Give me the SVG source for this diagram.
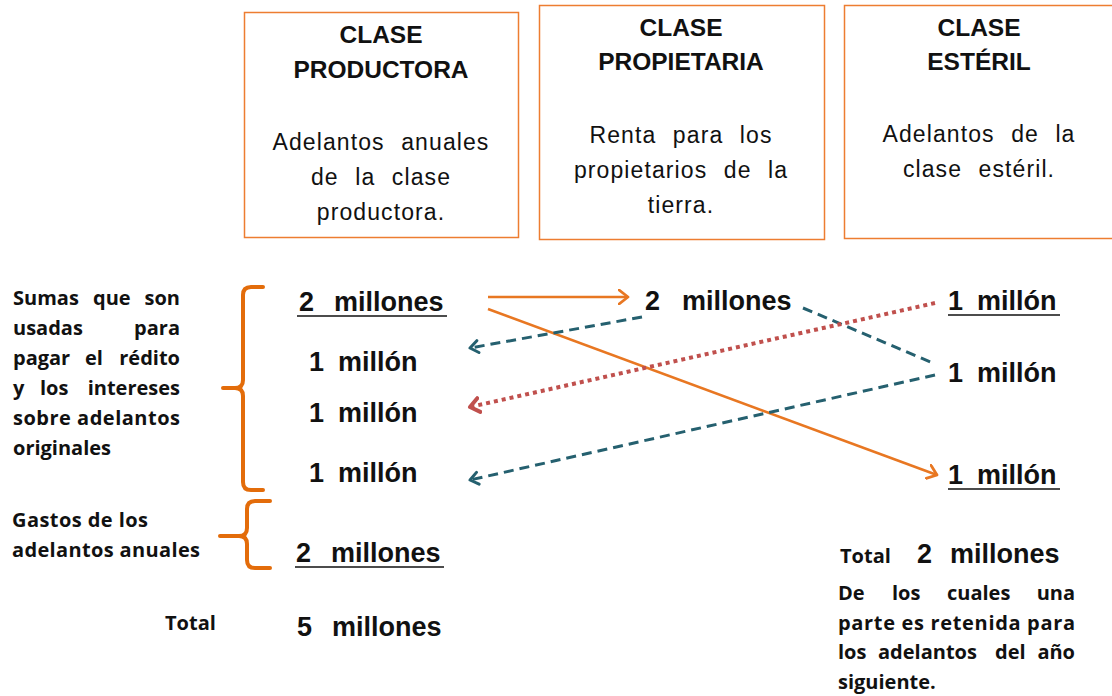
<svg xmlns="http://www.w3.org/2000/svg" width="1112" height="696" viewBox="0 0 1112 696">
<style>
.box{fill:#fff;stroke:#ED7D31;stroke-width:1.5}
.hd{font-family:"Liberation Sans",Arial,sans-serif;font-weight:bold;font-size:24.5px;fill:#111;text-anchor:middle}
.bd{font-family:"Liberation Sans",Arial,sans-serif;font-size:23px;fill:#111;text-anchor:middle;letter-spacing:1.1px;word-spacing:9px}
.num{font-family:"Liberation Sans",Arial,sans-serif;font-weight:bold;font-size:27px;fill:#111}
.cal{font-family:"Open Sans",Lato,sans-serif;font-weight:bold;font-size:20px;fill:#111}
.brace{fill:none;stroke:#E36C0A;stroke-width:4;stroke-linecap:round;stroke-linejoin:round}
.or{fill:none;stroke:#E87722;stroke-width:2.6}
.tl{fill:none;stroke:#25606F;stroke-width:3;stroke-dasharray:10 6}
.rd{fill:none;stroke:#C0504D;stroke-width:4;stroke-dasharray:4 4}
.ul{stroke:#111;stroke-width:1.5}
</style>
<defs>
<marker id="aOr" viewBox="0 0 12 16" refX="10" refY="8" markerWidth="12" markerHeight="16" markerUnits="userSpaceOnUse" orient="auto">
<path d="M1,1 L10,8 L1,15" fill="none" stroke="#E87722" stroke-width="2.8" stroke-linecap="round" stroke-linejoin="round"/>
</marker>
<marker id="aTl" viewBox="0 0 12 16" refX="10" refY="8" markerWidth="12" markerHeight="16" markerUnits="userSpaceOnUse" orient="auto">
<path d="M2,2 L10,8 L2,14" fill="none" stroke="#25606F" stroke-width="3" stroke-linecap="round" stroke-linejoin="round"/>
</marker>
<marker id="aRd" viewBox="0 0 14 18" refX="11" refY="9" markerWidth="14" markerHeight="18" markerUnits="userSpaceOnUse" orient="auto">
<path d="M2,2 L11,9 L2,16" fill="none" stroke="#C0504D" stroke-width="4" stroke-linecap="round" stroke-linejoin="round"/>
</marker>
</defs>
<rect width="1112" height="696" fill="#fff"/>

<g id="productora">
<rect class="box" x="244.5" y="12.5" width="274" height="225"/>
<text class="hd" x="381" y="43">CLASE</text>
<text class="hd" x="381" y="78">PRODUCTORA</text>
<text class="bd" x="381" y="150">Adelantos anuales</text>
<text class="bd" x="381" y="185">de la clase</text>
<text class="bd" x="381" y="220">productora.</text>
</g>
<g id="propietaria">
<rect class="box" x="539.5" y="5.5" width="285" height="234"/>
<text class="hd" x="681" y="36">CLASE</text>
<text class="hd" x="681" y="70">PROPIETARIA</text>
<text class="bd" x="681" y="143">Renta para los</text>
<text class="bd" x="681" y="178">propietarios de la</text>
<text class="bd" x="681" y="213">tierra.</text>
</g>
<g id="esteril">
<rect class="box" x="844.5" y="5.5" width="270" height="233"/>
<text class="hd" x="979" y="36">CLASE</text>
<text class="hd" x="979" y="70">ESTÉRIL</text>
<text class="bd" x="979" y="142">Adelantos de la</text>
<text class="bd" x="979" y="177">clase estéril.</text>
</g>

<g id="sumas">
<text class="cal" y="305"><tspan x="13">Sumas</tspan><tspan x="93">que</tspan><tspan x="180" text-anchor="end">son</tspan></text>
<text class="cal" y="335"><tspan x="13">usadas</tspan><tspan x="180" text-anchor="end">para</tspan></text>
<text class="cal" y="365"><tspan x="13">pagar</tspan><tspan x="85">el</tspan><tspan x="180" text-anchor="end">rédito</tspan></text>
<text class="cal" y="395"><tspan x="13">y</tspan><tspan x="40">los</tspan><tspan x="180" text-anchor="end">intereses</tspan></text>
<text class="cal" y="425" x="13" textLength="167" lengthAdjust="spacing">sobre adelantos</text>
<text class="cal" y="455" x="13">originales</text>
<path class="brace" d="M263,287 L251,287 Q243,287 243,295 L243,380 Q243,388 235,388 L223,388 M235,388 Q243,388 243,396 L243,482 Q243,490 251,490 L263,490"/>
</g>

<g id="gastos">
<text class="cal" x="12" y="527" textLength="136" lengthAdjust="spacing">Gastos de los</text>
<text class="cal" x="12" y="557" textLength="188" lengthAdjust="spacing">adelantos anuales</text>
<path class="brace" d="M270,501 L255,501 Q247,501 247,509 L247,528 Q247,536 239,536 L220,536 M239,536 Q247,536 247,544 L247,560 Q247,568 255,568 L270,568"/>
</g>

<g id="col1">
<text class="num" y="311"><tspan x="299">2</tspan><tspan x="334">millones</tspan></text>
<line class="ul" x1="297" y1="316" x2="447" y2="316"/>
<text class="num" y="371"><tspan x="309">1</tspan><tspan x="338">millón</tspan></text>
<text class="num" y="422"><tspan x="309">1</tspan><tspan x="338">millón</tspan></text>
<text class="num" y="482"><tspan x="309">1</tspan><tspan x="338">millón</tspan></text>
<text class="num" y="562"><tspan x="296">2</tspan><tspan x="331">millones</tspan></text>
<line class="ul" x1="295" y1="567" x2="444" y2="567"/>
<text class="cal" x="165" y="630">Total</text>
<text class="num" y="636"><tspan x="297">5</tspan><tspan x="332">millones</tspan></text>
</g>

<g id="col2">
<text class="num" y="310"><tspan x="645">2</tspan><tspan x="682">millones</tspan></text>
</g>

<g id="col3">
<text class="num" y="310"><tspan x="948">1</tspan><tspan x="977">millón</tspan></text>
<line class="ul" x1="948" y1="315" x2="1060" y2="315"/>
<text class="num" y="382"><tspan x="948">1</tspan><tspan x="977">millón</tspan></text>
<text class="num" y="484"><tspan x="948">1</tspan><tspan x="977">millón</tspan></text>
<line class="ul" x1="948" y1="489" x2="1060" y2="489"/>
<text class="cal" x="840" y="563">Total</text>
<text class="num" y="563"><tspan x="917">2</tspan><tspan x="950">millones</tspan></text>
<text class="cal" y="600"><tspan x="838">De</tspan><tspan x="892">los</tspan><tspan x="947">cuales</tspan><tspan x="1075" text-anchor="end">una</tspan></text>
<text class="cal" y="630" x="838" textLength="237" lengthAdjust="spacing">parte es retenida para</text>
<text class="cal" y="659"><tspan x="838">los</tspan><tspan x="878">adelantos</tspan><tspan x="995">del</tspan><tspan x="1075" text-anchor="end">año</tspan></text>
<text class="cal" y="689" x="838">siguiente.</text>
</g>

<g id="connectors">
<line class="or" x1="488" y1="297" x2="628" y2="297" marker-end="url(#aOr)"/>
<line class="or" x1="488" y1="309" x2="937" y2="475" marker-end="url(#aOr)"/>
<line class="tl" x1="642" y1="317" x2="470" y2="348" marker-end="url(#aTl)"/>
<line class="tl" x1="803" y1="308" x2="933" y2="363"/>
<line class="rd" x1="935" y1="303" x2="470" y2="407" marker-end="url(#aRd)"/>
<line class="tl" x1="935" y1="375" x2="470" y2="480" marker-end="url(#aTl)"/>
</g>
</svg>
